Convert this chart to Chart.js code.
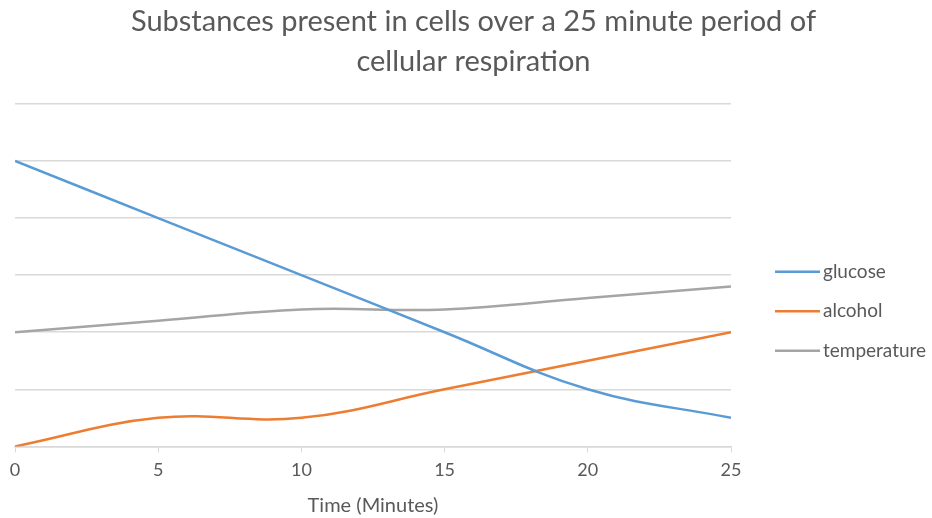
<!DOCTYPE html>
<html>
<head>
<meta charset="utf-8">
<script src="https://cdn.jsdelivr.net/npm/chart.js@4/dist/chart.umd.min.js"></script>
<style>
html,body{margin:0;padding:0;background:#fff;}
#wrap{width:932px;height:518px;}
</style>
</head>
<body>
<div id="wrap"><canvas id="c" width="932" height="518"></canvas></div>
<script>
const times = [0, 5, 10, 15, 20, 25];
const glucose = [5, 4, 3, 2, 1, 0.5];
const alcohol = [0, 0.5, 0.5, 1, 1.5, 2];
const temperature = [2, 2.2, 2.4, 2.4, 2.6, 2.8];
const seriesNames = ['glucose', 'alcohol', 'temperature'];
const seriesColors = ['#5b9bd5', '#ed7d31', '#a5a5a5'];
const titleLines = ['Substances present in cells over a 25 minute period of', 'cellular respiration'];
const xTitle = 'Time (Minutes)';

const toPts = arr => arr.map((v, i) => ({x: times[i], y: v}));
const FONT = 'Lato, "Open Sans", sans-serif';
const TXT = '#595959';

// Legend drawn to the right of the plot, Excel style
const sideLegend = {
  id: 'sideLegend',
  afterDraw(chart) {
    const {ctx, chartArea} = chart;
    const x0 = chartArea.right + 44;
    const lineW = 45;
    const yc = (chartArea.top + chartArea.bottom) / 2 + 36;
    const gap = 39.5;
    ctx.save();
    ctx.font = '19px ' + FONT;
    ctx.textBaseline = 'middle';
    ctx.textAlign = 'left';
    chart.data.datasets.forEach((ds, i) => {
      const y = yc + (i - 1) * gap;
      ctx.strokeStyle = ds.borderColor;
      ctx.lineWidth = 2.5;
      ctx.beginPath();
      ctx.moveTo(x0, y);
      ctx.lineTo(x0 + lineW, y);
      ctx.stroke();
      ctx.fillStyle = TXT;
      ctx.fillText(ds.label, x0 + lineW + 3, y);
    });
    ctx.restore();
  }
};

const mk = (name, arr, i) => ({label: name, data: toPts(arr), borderColor: seriesColors[i], backgroundColor: seriesColors[i], borderWidth: 2.5, pointRadius: 0, tension: 0.4, fill: false});

new Chart(document.getElementById('c'), {
  type: 'line',
  data: {
    datasets: [
      mk(seriesNames[0], glucose, 0),
      mk(seriesNames[1], alcohol, 1),
      mk(seriesNames[2], temperature, 2)
    ]
  },
  plugins: [sideLegend],
  options: {
    responsive: false,
    animation: false,
    layout: {padding: {left: 15, right: 0, top: 0, bottom: 0}},
    plugins: {
      title: {
        display: true,
        text: titleLines,
        color: TXT,
        font: {family: FONT, size: 29, weight: 'normal', lineHeight: 1.36},
        padding: {top: 2, bottom: 23}
      },
      legend: {display: false},
      tooltip: {enabled: false}
    },
    scales: {
      x: {
        type: 'linear',
        min: 0, max: 25,
        ticks: {stepSize: 5, color: TXT, font: {family: FONT, size: 18}, padding: 7},
        grid: {display: true, drawOnChartArea: false, color: '#d9d9d9', tickLength: 6},
        border: {color: '#d9d9d9', width: 1.5},
        title: {display: true, text: xTitle, color: TXT, font: {family: FONT, size: 20}, padding: {top: 6, bottom: 0}}
      },
      y: {
        min: 0, max: 6,
        ticks: {stepSize: 1, display: false},
        grid: {color: '#d9d9d9', lineWidth: 1.5, drawTicks: false},
        border: {display: false}
      },
      legendSpace: {
        type: 'linear',
        position: 'right',
        display: true,
        ticks: {display: false},
        grid: {display: false, drawTicks: false},
        border: {display: false},
        afterFit(scale) { scale.width = 201; }
      }
    }
  }
});
</script>
</body>
</html>
